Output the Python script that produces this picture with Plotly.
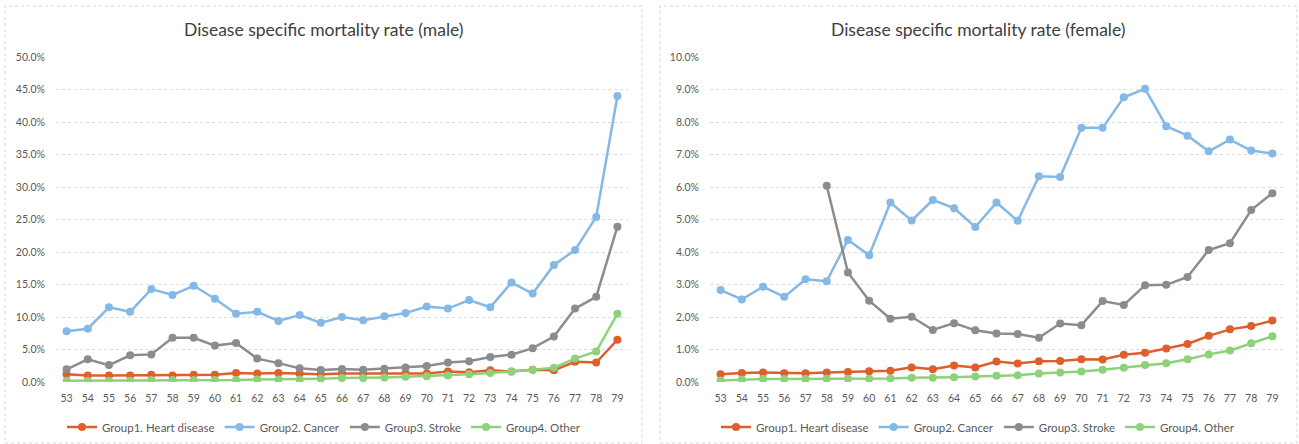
import plotly.graph_objects as go

ages = list(range(53, 80))

# Male disease-specific mortality rate (%)
male_heart = [1.2, 1.0, 1.0, 1.0, 1.1, 1.0, 1.1, 1.1, 1.4, 1.3, 1.4, 1.3, 1.2,
              1.3, 1.3, 1.3, 1.3, 1.3, 1.6, 1.5, 1.8, 1.6, 1.9, 1.8, 3.1, 3.0, 6.5]
male_cancer = [7.8, 8.2, 11.5, 10.8, 14.3, 13.4, 14.8, 12.8, 10.5, 10.8, 9.4, 10.3, 9.1,
               10.0, 9.5, 10.1, 10.6, 11.6, 11.3, 12.6, 11.5, 15.3, 13.6, 18.0, 20.3, 25.4, 44.0]
male_stroke = [1.95, 3.5, 2.6, 4.1, 4.25, 6.8, 6.8, 5.6, 6.0, 3.6, 2.9, 2.1, 1.85,
               2.0, 1.9, 2.05, 2.25, 2.45, 3.0, 3.2, 3.85, 4.2, 5.2, 7.0, 11.3, 13.1, 23.9]
male_other = [0.2, 0.2, 0.2, 0.2, 0.3, 0.3, 0.3, 0.3, 0.3, 0.4, 0.4, 0.4, 0.5,
              0.6, 0.6, 0.7, 0.8, 0.9, 1.0, 1.2, 1.4, 1.6, 1.9, 2.2, 3.6, 4.7, 10.5]

# Female disease-specific mortality rate (%)
female_heart = [0.24, 0.28, 0.29, 0.27, 0.27, 0.29, 0.31, 0.33, 0.35, 0.45, 0.39, 0.51, 0.45,
                0.63, 0.57, 0.64, 0.65, 0.70, 0.69, 0.84, 0.90, 1.03, 1.17, 1.42, 1.62, 1.72, 1.89]
female_cancer = [2.83, 2.54, 2.93, 2.62, 3.16, 3.10, 4.37, 3.90, 5.52, 4.97, 5.60, 5.35, 4.77,
                 5.52, 4.96, 6.33, 6.31, 7.82, 7.82, 8.76, 9.02, 7.87, 7.58, 7.10, 7.46, 7.12, 7.03]
female_stroke = [None, None, None, None, None, 6.04, 3.37, 2.50, 1.95, 2.01, 1.60, 1.81, 1.59,
                 1.49, 1.48, 1.36, 1.80, 1.75, 2.49, 2.37, 2.98, 2.99, 3.23, 4.06, 4.27, 5.29, 5.81]
female_other = [0.05, 0.08, 0.09, 0.09, 0.09, 0.10, 0.10, 0.10, 0.11, 0.13, 0.13, 0.15, 0.17,
                0.19, 0.21, 0.26, 0.29, 0.32, 0.38, 0.44, 0.52, 0.58, 0.70, 0.85, 0.97, 1.19, 1.41]

group_names = ["Group1. Heart disease", "Group2. Cancer", "Group3. Stroke", "Group4. Other"]
group_colors = ["#DE5E2C", "#84B8E7", "#8A8C8E", "#8DD27B"]

titles = ["Disease specific mortality rate (male)", "Disease specific mortality rate (female)"]

FONT = "Lato"
TEXT = "#404040"
TICK = "#595959"
GRID = "#dcdcdc"

fig = go.Figure()

panels = [
    dict(series=[male_heart, male_cancer, male_stroke, male_other], xa="x", ya="y",
         legend="legend", ymax=50, dtick=5),
    dict(series=[female_heart, female_cancer, female_stroke, female_other], xa="x2", ya="y2",
         legend="legend2", ymax=10, dtick=1),
]

for p in panels:
    for name, color, vals in zip(group_names, group_colors, p["series"]):
        fig.add_trace(go.Scatter(
            x=ages, y=[None if v is None else v / 100 for v in vals],
            name=name, mode="lines+markers",
            line=dict(color=color, width=2.5),
            marker=dict(color=color, size=8, symbol="circle"),
            xaxis=p["xa"], yaxis=p["ya"], legend=p["legend"],
            connectgaps=False,
        ))

W, H = 1299, 444
x_domains = [(56 / W, 628 / W), (710 / W, 1283 / W)]
y_domain = (1 - 382 / H, 1 - 57 / H)

layout = dict(
    width=W, height=H,
    margin=dict(l=0, r=0, t=0, b=0, pad=0, autoexpand=False),
    paper_bgcolor="white", plot_bgcolor="white",
    font=dict(family=FONT, color=TEXT),
    showlegend=True,
)

for i, p in enumerate(panels):
    sfx = "" if i == 0 else str(i + 1)
    layout["xaxis" + sfx] = dict(
        domain=list(x_domains[i]), range=[52.5, 79.5],
        tickmode="array", tickvals=ages, ticktext=[str(a) for a in ages],
        tickfont=dict(family=FONT, size=10.5, color=TICK),
        showgrid=False, zeroline=False, showline=False, automargin=False,
        anchor="y" + sfx, ticklabelstandoff=8,
    )
    layout["yaxis" + sfx] = dict(
        domain=list(y_domain), range=[0, p["ymax"] / 100],
        dtick=p["dtick"] / 100, tickformat=".1%",
        tickfont=dict(family=FONT, size=10.5, color=TICK),
        showgrid=True, gridcolor=GRID, griddash="dot", gridwidth=1,
        zeroline=False, showline=False, automargin=False,
        anchor="x" + sfx, ticklabelstandoff=10,
    )

legend_common = dict(
    orientation="h", yanchor="middle", y=1 - 427 / H, xanchor="center",
    font=dict(family=FONT, size=11.5, color=TICK), bgcolor="rgba(0,0,0,0)",
    itemwidth=30, tracegroupgap=0,
)
layout["legend"] = dict(x=324 / W, **legend_common)
layout["legend2"] = dict(x=978 / W, **legend_common)

fig.update_layout(**layout)

# Panel frames
for x0, x1 in [(5, 642), (660, 1297)]:
    fig.add_shape(type="rect", xref="paper", yref="paper",
                  x0=x0 / W, x1=x1 / W, y0=1 - 443 / H, y1=1 - 6 / H,
                  line=dict(color="#d4d4d4", width=1, dash="dot"), fillcolor="rgba(0,0,0,0)",
                  layer="below")

# Panel titles
for cx, t in zip([324, 978], titles):
    fig.add_annotation(text=t, xref="paper", yref="paper", x=cx / W, y=1 - 30 / H,
                       xanchor="center", yanchor="middle", showarrow=False,
                       font=dict(family=FONT, size=17.5, color=TEXT))

fig.write_html("out.html",
               post_script="document.body.style.margin='0';document.body.style.overflow='hidden';")
